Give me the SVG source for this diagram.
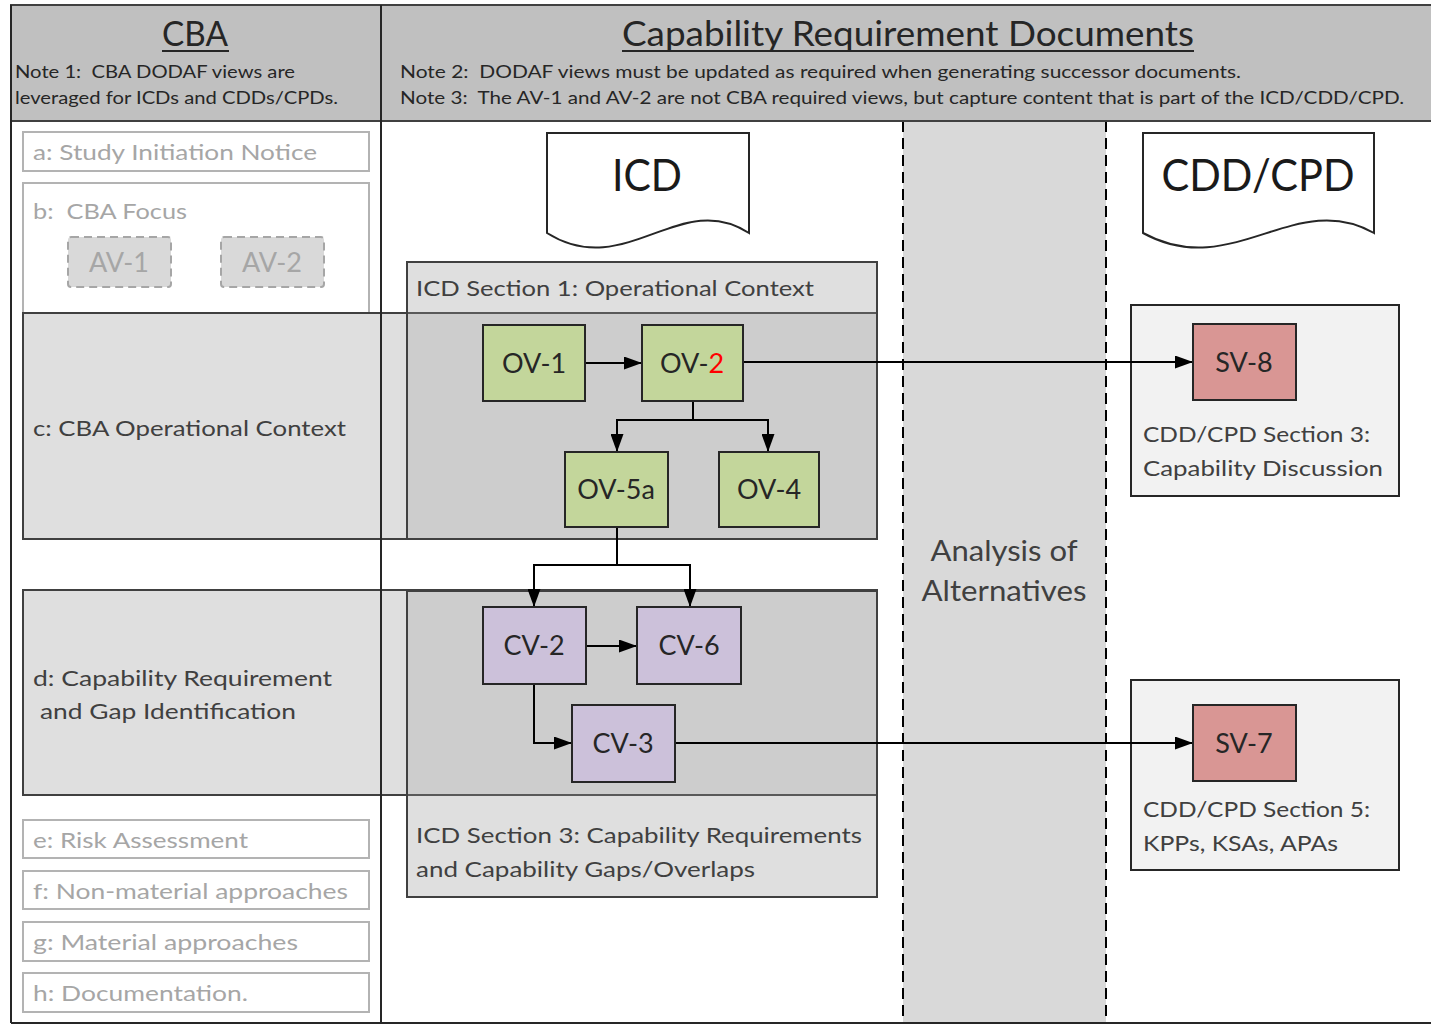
<svg xmlns="http://www.w3.org/2000/svg" width="1431" height="1026" viewBox="0 0 1431 1026">
<style>
text{font-family:Lato,"Liberation Sans",sans-serif;}
.lbl{font-size:22px;fill:#404040;}
.gray{font-size:22px;fill:#a6a6a6;}
.grayBox{fill:#ffffff;stroke:#b3b3b3;stroke-width:2;}
.node{stroke:#262626;stroke-width:2;}
.ov{fill:#c3d69b;}
.cv{fill:#ccc1da;}
.sv{fill:#d99694;}
.nt{font-size:27px;fill:#262626;text-anchor:middle;}
.note{font-size:18px;fill:#262626;white-space:pre;}
.conn{fill:none;stroke:#000;stroke-width:2;}
</style>
<defs>
<marker id="ah" viewBox="0 0 18 13" refX="18" refY="6.5" markerWidth="18" markerHeight="13" markerUnits="userSpaceOnUse" orient="auto">
<path d="M0,0 L18,6.5 L0,13 z" fill="#000"/>
</marker>
</defs>
<rect x="0" y="0" width="1431" height="1026" fill="#ffffff"/>

<g id="aoa-band">
<rect x="903" y="121" width="203" height="902" fill="#d9d9d9"/>
<line x1="903" y1="121" x2="903" y2="1023" stroke="#000" stroke-width="2" stroke-dasharray="11,6"/>
<line x1="1106" y1="121" x2="1106" y2="1023" stroke="#000" stroke-width="2" stroke-dasharray="11,6"/>
<text x="1004" y="561" text-anchor="middle" style="font-size:28px;fill:#404040" textLength="147" lengthAdjust="spacingAndGlyphs">Analysis of</text>
<text x="1004" y="601" text-anchor="middle" style="font-size:28px;fill:#404040" textLength="165" lengthAdjust="spacingAndGlyphs">Alternatives</text>
</g>

<g id="header">
<rect x="11" y="5" width="1425" height="116" fill="#c0c0c0" stroke="#404040" stroke-width="2"/>
<text x="195" y="46" text-anchor="middle" style="font-size:34px;fill:#262626" textLength="66" lengthAdjust="spacingAndGlyphs">CBA</text>
<line x1="162" y1="51" x2="229" y2="51" stroke="#262626" stroke-width="2"/>
<text x="15" y="78" class="note" textLength="280" lengthAdjust="spacingAndGlyphs">Note 1:  CBA DODAF views are</text>
<text x="15" y="104" class="note" textLength="323" lengthAdjust="spacingAndGlyphs">leveraged for ICDs and CDDs/CPDs.</text>
<text x="908" y="46" text-anchor="middle" style="font-size:34px;fill:#262626" textLength="572" lengthAdjust="spacingAndGlyphs">Capability Requirement Documents</text>
<line x1="622" y1="51" x2="1194" y2="51" stroke="#262626" stroke-width="2"/>
<text x="400" y="78" class="note" textLength="841" lengthAdjust="spacingAndGlyphs">Note 2:  DODAF views must be updated as required when generating successor documents.</text>
<text x="400" y="104" class="note" textLength="1004" lengthAdjust="spacingAndGlyphs">Note 3:  The AV-1 and AV-2 are not CBA required views, but capture content that is part of the ICD/CDD/CPD.</text>
</g>

<g id="a-study">
<rect x="23" y="132" width="346" height="39" class="grayBox"/>
<text x="33" y="160" class="gray" textLength="284" lengthAdjust="spacingAndGlyphs">a: Study Initiation Notice</text>
</g>
<g id="b-focus">
<rect x="23" y="183" width="346" height="140" class="grayBox"/>
<text x="33" y="219" class="gray" style="white-space:pre" textLength="154" lengthAdjust="spacingAndGlyphs">b:  CBA Focus</text>
</g>
<g id="av-1">
<rect x="68" y="237" width="103" height="50" rx="3" fill="#d9d9d9" stroke="#a6a6a6" stroke-width="2" stroke-dasharray="8,5"/>
<text x="119" y="272" text-anchor="middle" style="font-size:27px;fill:#a6a6a6">AV-1</text>
</g>
<g id="av-2">
<rect x="221" y="237" width="103" height="50" rx="3" fill="#d9d9d9" stroke="#a6a6a6" stroke-width="2" stroke-dasharray="8,5"/>
<text x="272" y="272" text-anchor="middle" style="font-size:27px;fill:#a6a6a6">AV-2</text>
</g>

<g id="c-context">
<rect x="23" y="313" width="854" height="226" fill="#dfdfdf" stroke="#404040" stroke-width="2"/>
<text x="33" y="436" class="lbl" textLength="313" lengthAdjust="spacingAndGlyphs">c: CBA Operational Context</text>
</g>
<g id="d-capability">
<rect x="23" y="590" width="854" height="205" fill="#dfdfdf" stroke="#404040" stroke-width="2"/>
<text x="33" y="686" class="lbl" textLength="299" lengthAdjust="spacingAndGlyphs">d: Capability Requirement</text>
<text x="40" y="719" class="lbl" textLength="256" lengthAdjust="spacingAndGlyphs">and Gap Identification</text>
</g>

<g id="e-risk">
<rect x="23" y="820" width="346" height="38" class="grayBox"/>
<text x="33" y="848" class="gray" textLength="215" lengthAdjust="spacingAndGlyphs">e: Risk Assessment</text>
</g>
<g id="f-nonmaterial">
<rect x="23" y="871" width="346" height="38" class="grayBox"/>
<text x="33" y="899" class="gray" textLength="315" lengthAdjust="spacingAndGlyphs">f: Non-material approaches</text>
</g>
<g id="g-material">
<rect x="23" y="922" width="346" height="39" class="grayBox"/>
<text x="33" y="950" class="gray" textLength="265" lengthAdjust="spacingAndGlyphs">g: Material approaches</text>
</g>
<g id="h-documentation">
<rect x="23" y="973" width="346" height="39" class="grayBox"/>
<text x="33" y="1001" class="gray" textLength="215" lengthAdjust="spacingAndGlyphs">h: Documentation.</text>
</g>

<g id="frame">
<line x1="11" y1="5" x2="11" y2="1023" stroke="#262626" stroke-width="2"/>
<line x1="381" y1="5" x2="381" y2="1023" stroke="#262626" stroke-width="2"/>
<line x1="11" y1="1023" x2="1431" y2="1023" stroke="#262626" stroke-width="2"/>
</g>

<g id="icd-doc">
<path d="M547,133 H749 V233 C680,188 625,282 547,233 Z" fill="#ffffff" stroke="#262626" stroke-width="2"/>
<text x="647" y="191" text-anchor="middle" style="font-size:44px;fill:#1a1a1a" textLength="70" lengthAdjust="spacingAndGlyphs">ICD</text>
</g>
<g id="cdd-doc">
<path d="M1143,133 H1374 V233 C1295,188 1232,282 1143,233 Z" fill="#ffffff" stroke="#262626" stroke-width="2"/>
<text x="1258" y="191" text-anchor="middle" style="font-size:44px;fill:#1a1a1a" textLength="193" lengthAdjust="spacingAndGlyphs">CDD/CPD</text>
</g>

<g id="icd-section-1">
<rect x="407" y="262" width="470" height="51" fill="#dfdfdf"/>
<rect x="407" y="313" width="470" height="226" fill="#cdcdcd"/>
<line x1="407" y1="313" x2="877" y2="313" stroke="#595959" stroke-width="2"/>
<rect x="407" y="262" width="470" height="277" fill="none" stroke="#404040" stroke-width="2"/>
<text x="416" y="296" class="lbl" textLength="398" lengthAdjust="spacingAndGlyphs">ICD Section 1: Operational Context</text>
</g>
<g id="icd-section-3">
<rect x="407" y="591" width="470" height="204" fill="#cdcdcd"/>
<rect x="407" y="795" width="470" height="102" fill="#dfdfdf"/>
<line x1="407" y1="795" x2="877" y2="795" stroke="#595959" stroke-width="2"/>
<rect x="407" y="591" width="470" height="306" fill="none" stroke="#404040" stroke-width="2"/>
<text x="416" y="843" class="lbl" textLength="446" lengthAdjust="spacingAndGlyphs">ICD Section 3: Capability Requirements</text>
<text x="416" y="877" class="lbl" textLength="339" lengthAdjust="spacingAndGlyphs">and Capability Gaps/Overlaps</text>
</g>
<g id="cdd-section-3">
<rect x="1131" y="305" width="268" height="191" fill="#f2f2f2" stroke="#262626" stroke-width="2"/>
<text x="1143" y="442" class="lbl" textLength="227" lengthAdjust="spacingAndGlyphs">CDD/CPD Section 3:</text>
<text x="1143" y="476" class="lbl" textLength="240" lengthAdjust="spacingAndGlyphs">Capability Discussion</text>
</g>
<g id="cdd-section-5">
<rect x="1131" y="680" width="268" height="190" fill="#f2f2f2" stroke="#262626" stroke-width="2"/>
<text x="1143" y="817" class="lbl" textLength="227" lengthAdjust="spacingAndGlyphs">CDD/CPD Section 5:</text>
<text x="1143" y="851" class="lbl" textLength="195" lengthAdjust="spacingAndGlyphs">KPPs, KSAs, APAs</text>
</g>

<g id="connectors">
<path class="conn" d="M586,363 H642" marker-end="url(#ah)"/>
<path class="conn" d="M693,401 V420 H617 V452" marker-end="url(#ah)"/>
<path class="conn" d="M693,420 H768 V452" marker-end="url(#ah)"/>
<path class="conn" d="M743,362 H1193" marker-end="url(#ah)"/>
<path class="conn" d="M617,527 V565 H534 V607" marker-end="url(#ah)"/>
<path class="conn" d="M617,565 H690 V607" marker-end="url(#ah)"/>
<path class="conn" d="M586,646 H637" marker-end="url(#ah)"/>
<path class="conn" d="M534,684 V743 H572" marker-end="url(#ah)"/>
<path class="conn" d="M675,743 H1193" marker-end="url(#ah)"/>
</g>

<g id="ov-1"><rect x="483" y="325" width="102" height="76" class="node ov"/><text x="534" y="373" class="nt">OV-1</text></g>
<g id="ov-2"><rect x="642" y="325" width="101" height="76" class="node ov"/><text x="692" y="373" class="nt">OV-<tspan fill="#ff0000">2</tspan></text></g>
<g id="ov-5a"><rect x="565" y="452" width="103" height="75" class="node ov"/><text x="616" y="499" class="nt">OV-5a</text></g>
<g id="ov-4"><rect x="719" y="452" width="100" height="75" class="node ov"/><text x="769" y="499" class="nt">OV-4</text></g>
<g id="cv-2"><rect x="483" y="607" width="103" height="77" class="node cv"/><text x="534" y="655" class="nt">CV-2</text></g>
<g id="cv-6"><rect x="637" y="607" width="104" height="77" class="node cv"/><text x="689" y="655" class="nt">CV-6</text></g>
<g id="cv-3"><rect x="572" y="705" width="103" height="77" class="node cv"/><text x="623" y="753" class="nt">CV-3</text></g>
<g id="sv-8"><rect x="1193" y="324" width="103" height="76" class="node sv"/><text x="1244" y="372" class="nt">SV-8</text></g>
<g id="sv-7"><rect x="1193" y="705" width="103" height="76" class="node sv"/><text x="1244" y="753" class="nt">SV-7</text></g>
</svg>
